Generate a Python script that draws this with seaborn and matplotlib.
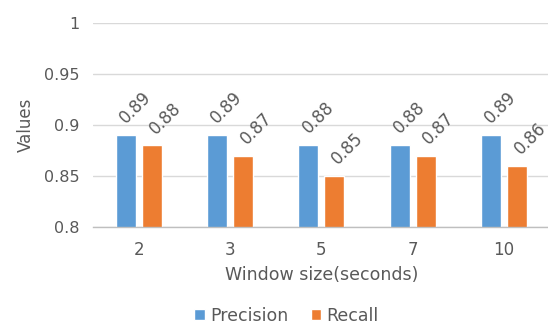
import matplotlib
matplotlib.use("Agg")
import matplotlib.pyplot as plt
import seaborn as sns
import pandas as pd
from matplotlib.ticker import FixedLocator

windows = ["2", "3", "5", "7", "10"]
precision = [0.89, 0.89, 0.88, 0.88, 0.89]
recall = [0.88, 0.87, 0.85, 0.87, 0.86]
series = ["Precision", "Recall"]
colors = ["#5B9BD5", "#ED7D31"]
yticks = [0.8, 0.85, 0.9, 0.95, 1.0]
ytick_labels = ["0.8", "0.85", "0.9", "0.95", "1"]

df = pd.DataFrame({
    "window": windows * 2,
    "value": precision + recall,
    "metric": [series[0]] * len(windows) + [series[1]] * len(windows),
})

sns.set_theme(style="white")
plt.rcParams["font.family"] = ["DejaVu Sans"]
text_color = "#595959"

fig = plt.figure(figsize=(5.48, 3.25), dpi=100)
ax = fig.add_axes([0.170, 0.3015, 0.833, 0.6275])

sns.barplot(data=df, x="window", y="value", hue="metric", order=windows,
            hue_order=series, palette=colors, width=0.57, gap=0.23,
            saturation=1, ax=ax, legend=True)

ax.set_ylim(0.8, 1.0)
ax.set_xlim(-0.5, len(windows) - 0.5)
ax.set_yticks(yticks)
ax.set_yticklabels(ytick_labels)
ax.yaxis.grid(True, color="#D9D9D9", linewidth=1)
ax.set_axisbelow(True)
for s in ["left", "right", "top"]:
    ax.spines[s].set_visible(False)
ax.spines["bottom"].set_color("#BFBFBF")
ax.spines["bottom"].set_linewidth(1)

ax.tick_params(axis="y", length=0, labelsize=11.5, labelcolor=text_color, pad=10)
ax.tick_params(axis="x", which="major", length=0, labelsize=12,
               labelcolor=text_color, pad=10)
ax.xaxis.set_minor_locator(FixedLocator([i - 0.5 for i in range(len(windows) + 1)]))
ax.tick_params(axis="x", which="minor", length=5, color="#BFBFBF", width=1,
               direction="out")

ax.set_xlabel("Window size(seconds)", fontsize=12.5, color=text_color, labelpad=5)
ax.set_ylabel("Values", fontsize=12, color=text_color, labelpad=6)

# rotated value labels centred above each bar
offsets = [(6.8, 19.8), (9.4, 19.6)]
for container, (dx, dy) in zip(ax.containers, offsets):
    for bar in container:
        h = bar.get_height()
        x = bar.get_x() + bar.get_width() / 2
        ax.annotate(f"{h:.2f}", xy=(x, h), xytext=(dx, dy),
                    textcoords="offset points", rotation=45,
                    rotation_mode="anchor", ha="center", va="center",
                    fontsize=12, color=text_color)

handles, labels = ax.get_legend_handles_labels()
ax.legend_.remove()
fig.legend(handles, labels, loc="center", bbox_to_anchor=(0.523, 0.028),
           ncol=2, frameon=False, fontsize=12.5, labelcolor=text_color,
           handlelength=0.6, handleheight=0.6, handletextpad=0.3,
           columnspacing=1.3, borderpad=0)

fig.savefig("out.png", dpi=100)
